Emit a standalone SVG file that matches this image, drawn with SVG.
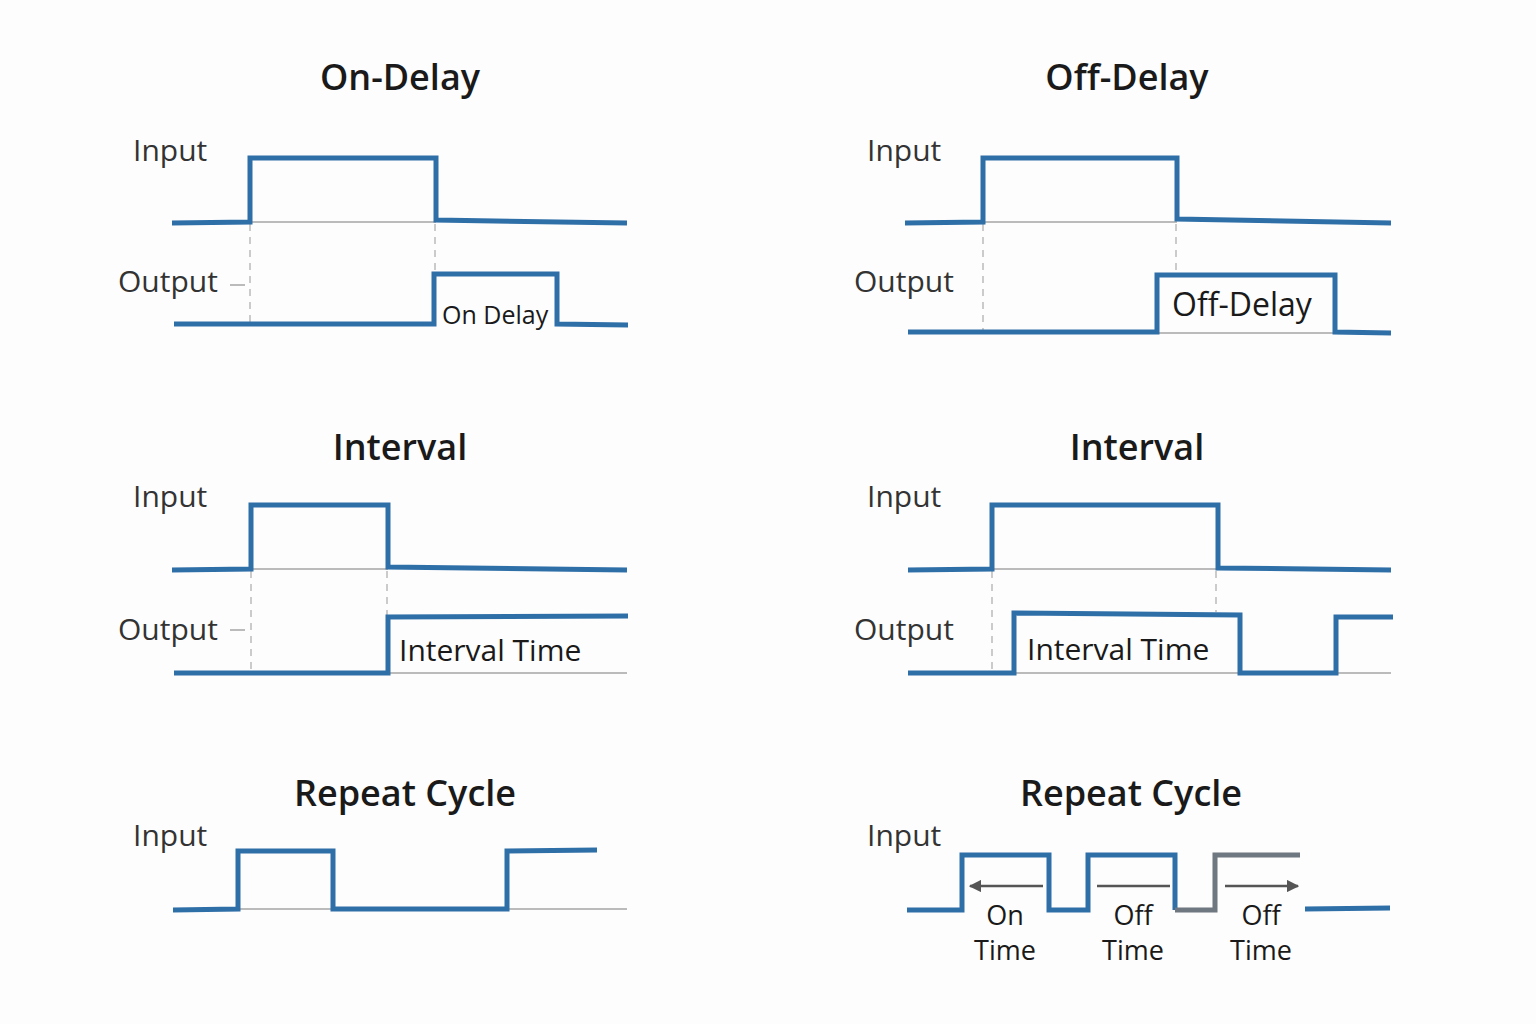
<svg xmlns="http://www.w3.org/2000/svg" width="1536" height="1024" viewBox="0 0 1536 1024">
<style>
.w{fill:none;stroke:#2f6fa8;stroke-width:5;stroke-linejoin:miter}
.g{fill:none;stroke:#bbbbbb;stroke-width:2}
.d{fill:none;stroke:#bbbbbb;stroke-width:1.5;stroke-dasharray:7 6}
.t{font-family:"Open Sans","DejaVu Sans",sans-serif;font-size:36px;font-weight:600;fill:#1a1a1a;text-anchor:middle}
.l{font-family:"Open Sans","DejaVu Sans",sans-serif;font-size:30px;fill:#333}
.s{font-family:"Open Sans","DejaVu Sans",sans-serif;fill:#1a1a1a}
.a{fill:none;stroke:#555;stroke-width:2.5;marker-start:url(#ah);marker-end:url(#ah)}
</style>
<defs><marker id="ah" viewBox="0 0 10 10" refX="9" refY="5" markerWidth="5" markerHeight="5" orient="auto-start-reverse"><path d="M0,0 L10,5 L0,10 z" fill="#555"/></marker></defs>
<rect width="1536" height="1024" fill="#fdfdfd"/>
<g id="on-delay">
<text class="t" x="400" y="90">On-Delay</text>
<text class="l" x="133" y="161">Input</text>
<text class="l" x="118" y="292">Output</text>
<path class="g" d="M250,222 H436 M230,285 H245"/>
<path class="d" d="M250,224 V324 M435,224 V272"/>
<path class="w" d="M172,223 L250,222 V158 H436 V220 L627,223"/>
<path class="w" d="M174,324 H434 V274 H557 V324 L628,325"/>
<text class="s" x="442" y="324" font-size="25">On Delay</text>
</g>
<g id="off-delay">
<text class="t" x="1127" y="90">Off-Delay</text>
<text class="l" x="867" y="161">Input</text>
<text class="l" x="854" y="292">Output</text>
<path class="g" d="M983,222 H1177 M1157,333 H1335"/>
<path class="d" d="M983,224 V330 M1176,224 V272"/>
<path class="w" d="M905,223 L983,222 V158 H1177 V219 L1391,223"/>
<path class="w" d="M908,332 H1157 V275 H1335 V332 L1391,333"/>
<text class="s" x="1172" y="316" font-size="32">Off-Delay</text>
</g>
<g id="interval-left">
<text class="t" x="400" y="460">Interval</text>
<text class="l" x="133" y="507">Input</text>
<text class="l" x="118" y="640">Output</text>
<path class="g" d="M251,569 H388 M388,673 H627 M230,630 H245"/>
<path class="d" d="M251,571 V672 M387,571 V615"/>
<path class="w" d="M172,570 L251,569 V505 H388 V567 L627,570"/>
<path class="w" d="M174,673 H388 V617 L628,616"/>
<text class="s" x="399" y="661" font-size="30">Interval Time</text>
</g>
<g id="interval-right">
<text class="t" x="1137" y="460">Interval</text>
<text class="l" x="867" y="507">Input</text>
<text class="l" x="854" y="640">Output</text>
<path class="g" d="M992,569 H1218 M1014,673 H1240 M1336,673 H1391"/>
<path class="d" d="M992,571 V672 M1216,571 V612"/>
<path class="w" d="M908,570 L992,569 V505 H1218 V568 L1391,570"/>
<path class="w" d="M908,673 H1014 V613 L1240,615 V673 H1336 V617 H1393"/>
<text class="s" x="1027" y="660" font-size="30">Interval Time</text>
</g>
<g id="repeat-left">
<text class="t" x="405" y="806">Repeat Cycle</text>
<text class="l" x="133" y="846">Input</text>
<path class="g" d="M173,909 H627"/>
<path class="w" d="M173,910 L238,909 V851 H333 V909 H507 V851 L597,850"/>
</g>
<g id="repeat-right">
<text class="t" x="1131" y="806">Repeat Cycle</text>
<text class="l" x="867" y="846">Input</text>
<path class="w" d="M907,910 H962 V855 H1049 V910 H1088 V855 H1175 V910"/>
<path class="w" style="stroke:#6f7780" d="M1175,910 H1215 V855 H1300"/>
<path class="w" d="M1305,909 L1390,908"/>
<path class="a" d="M970,886 H1043 M1097,886 H1170 M1225,886 H1298"/>
<g class="s" font-size="27" text-anchor="middle">
<text x="1005" y="925">On</text><text x="1005" y="960">Time</text>
<text x="1133" y="925">Off</text><text x="1133" y="960">Time</text>
<text x="1261" y="925">Off</text><text x="1261" y="960">Time</text>
</g>
</g>
</svg>
